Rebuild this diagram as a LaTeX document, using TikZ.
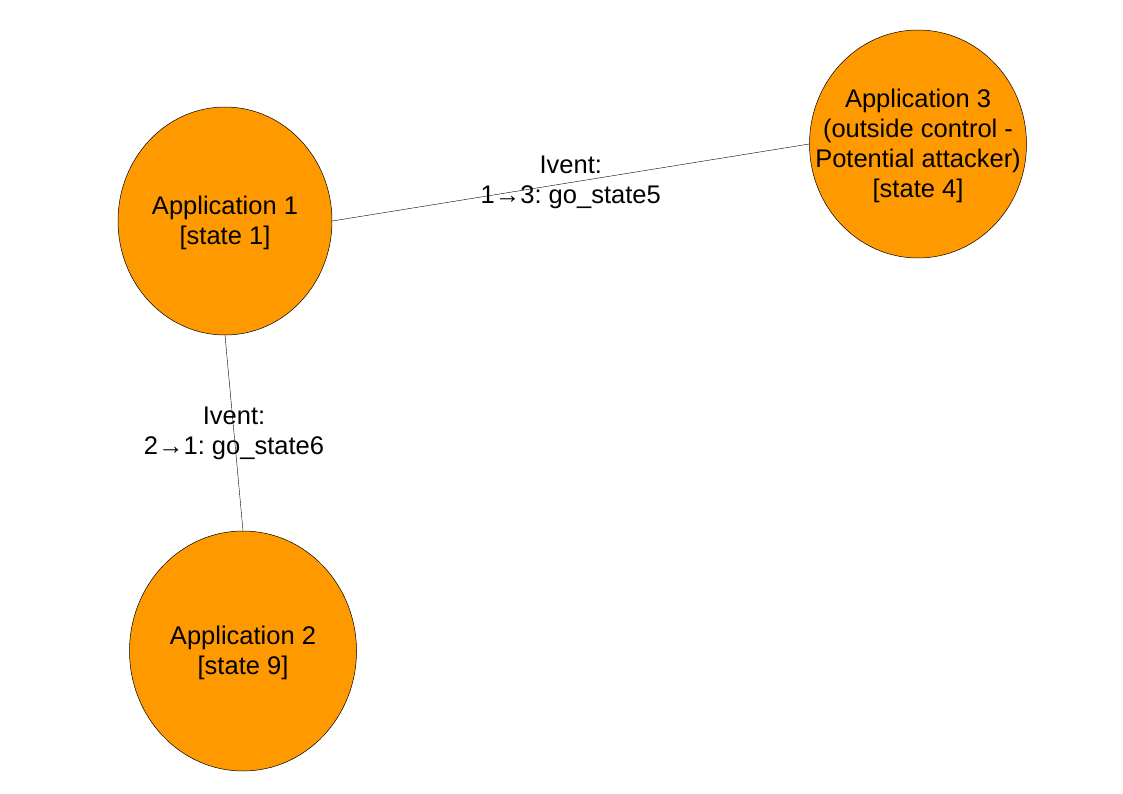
\documentclass[tikz,border=0pt]{standalone}
\usepackage{fontspec}
\setmainfont{Liberation Sans}
\usetikzlibrary{shapes.geometric}
\definecolor{apporange}{HTML}{FF9900}
\frenchspacing

\begin{document}
\begin{tikzpicture}[x=1pt, y=-1pt,
  app/.style={ellipse, draw=black, line width=0.5pt, fill=apporange, inner sep=0},
  apptext/.style={align=center, font=\fontsize{25.5}{30}\selectfont, yshift=-2pt},
  ivent/.style={align=center, font=\fontsize{25.5}{30}\selectfont}]
  \useasboundingbox (0,0) rectangle (1123,794);

  \node[app, minimum width=214, minimum height=228] (app1) at (225, 221) {};
  \node[app, minimum width=227, minimum height=240] (app2) at (243, 651) {};
  \node[app, minimum width=217, minimum height=228] (app3) at (918, 144) {};

  \node[apptext] (app1text) at (app1) {Application 1\\{}[state 1]};
  \node[apptext] (app2text) at (app2) {Application 2\\{}[state 9]};
  \node[apptext] (app3text) at (app3) {Application 3\\(outside control -\\Potential attacker)\\{}[state 4]};

  \draw[line width=0.4pt] (app1.east)--(app3.west) node[ivent, midway] {Ivent:\\1→3: go\_state5};
  \draw[line width=0.4pt] (app1.south)--(app2.north) node[ivent, midway] {Ivent:\\2→1: go\_state6};
\end{tikzpicture}
\end{document}
